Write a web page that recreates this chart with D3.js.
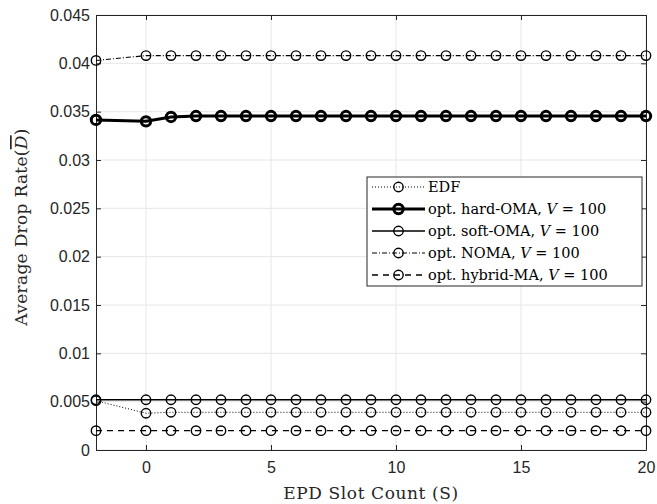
<!DOCTYPE html>
<html><head><meta charset="utf-8">
<script src="https://cdn.jsdelivr.net/npm/d3@7"></script>
<style>body{margin:0;background:#fff}svg{display:block}</style>
</head><body>
<svg id="c" width="657" height="504"></svg>
<script>
const xs = [-2,0,1,2,3,4,5,6,7,8,9,10,11,12,13,14,15,16,17,18,19,20];
const edf    = [0.0051,0.0038,0.0039,0.0039,0.0039,0.0039,0.0039,0.0039,0.0039,0.0039,0.0039,0.0039,0.0039,0.0039,0.0039,0.0039,0.0039,0.0039,0.0039,0.0039,0.0039,0.0039];
const hardOMA= [0.03415,0.0340,0.03445,0.03455,0.03455,0.03455,0.03455,0.03455,0.03455,0.03455,0.03455,0.03455,0.03455,0.03455,0.03455,0.03455,0.03455,0.03455,0.03455,0.03455,0.03455,0.03455];
const softOMA= [0.0052,0.0052,0.0052,0.0052,0.0052,0.0052,0.0052,0.0052,0.0052,0.0052,0.0052,0.0052,0.0052,0.0052,0.0052,0.0052,0.0052,0.0052,0.0052,0.0052,0.0052,0.0052];
const noma   = [0.0403,0.0408,0.0408,0.0408,0.0408,0.0408,0.0408,0.0408,0.0408,0.0408,0.0408,0.0408,0.0408,0.0408,0.0408,0.0408,0.0408,0.0408,0.0408,0.0408,0.0408,0.0408];
const hybrid = [0.0020,0.0020,0.0020,0.0020,0.0020,0.0020,0.0020,0.0020,0.0020,0.0020,0.0020,0.0020,0.0020,0.0020,0.0020,0.0020,0.0020,0.0020,0.0020,0.0020,0.0020,0.0020];
const xTicks = [0,5,10,15,20];
const yTicks = [0,0.005,0.01,0.015,0.02,0.025,0.03,0.035,0.04,0.045];
const yTickLabels = ["0","0.005","0.01","0.015","0.02","0.025","0.03","0.035","0.04","0.045"];
const seriesNames = ["EDF","opt. hard-OMA, ","opt. soft-OMA, ","opt. NOMA, ","opt. hybrid-MA, "];

const series = [
  {name:seriesNames[0], v:edf, w:1, dash:"1,2", v100:false, mw:1.4},
  {name:seriesNames[1], v:hardOMA, w:3, dash:null, v100:true, mw:3},
  {name:seriesNames[2], v:softOMA, w:1.3, dash:null, v100:true, mw:1.4},
  {name:seriesNames[3], v:noma, w:1.1, dash:"5,2,1,2", v100:true, mw:1.4},
  {name:seriesNames[4], v:hybrid, w:1.3, dash:"6,5", v100:true, mw:1.4}
];
const svg = d3.select("#c");
const L=96,R=646,T=15,B=450;
const x = d3.scaleLinear().domain([-2,20]).range([L,R]);
const y = d3.scaleLinear().domain([0,0.045]).range([B,T]);
const ink="#262626";
const serif="'DejaVu Serif','Liberation Serif',serif";

// grid
svg.append("g").selectAll("line").data(xTicks).join("line")
  .attr("x1",d=>x(d)).attr("x2",d=>x(d)).attr("y1",T).attr("y2",B)
  .attr("stroke","#e6e6e6").attr("stroke-width",1);
svg.append("g").selectAll("line").data(yTicks).join("line")
  .attr("y1",d=>y(d)).attr("y2",d=>y(d)).attr("x1",L).attr("x2",R)
  .attr("stroke","#e6e6e6").attr("stroke-width",1);

// axes
const fmtY = d => yTickLabels[yTicks.indexOf(d)];
const gx = svg.append("g").attr("transform",`translate(0,${B})`)
  .call(d3.axisBottom(x).tickValues(xTicks).tickSizeInner(-5).tickSizeOuter(0).tickPadding(12));
const gxt = svg.append("g").attr("transform",`translate(0,${T})`)
  .call(d3.axisTop(x).tickValues(xTicks).tickSizeInner(-5).tickSizeOuter(0).tickFormat(""));
const gy = svg.append("g").attr("transform",`translate(${L},0)`)
  .call(d3.axisLeft(y).tickValues(yTicks).tickFormat(fmtY).tickSizeInner(-5).tickSizeOuter(0).tickPadding(6));
const gyr = svg.append("g").attr("transform",`translate(${R},0)`)
  .call(d3.axisRight(y).tickValues(yTicks).tickFormat("").tickSizeInner(-5).tickSizeOuter(0));
[gx,gxt,gy,gyr].forEach(g=>{
  g.selectAll("path").attr("stroke",ink).attr("stroke-width",1);
  g.selectAll("line").attr("stroke",ink);
  g.selectAll("text").attr("fill","#262626").style("font-family","'Liberation Sans',Arial,sans-serif").style("font-size","16px");
});

// lines
const line = d3.line().x((d,i)=>x(xs[i])).y(d=>y(d));
const order=[0,2,3,4,1];
order.forEach(k=>{
  const s=series[k];
  const g=svg.append("g");
  g.append("path").datum(s.v).attr("d",line).attr("fill","none")
    .attr("stroke","#000").attr("stroke-width",s.w).attr("stroke-dasharray",s.dash);
  g.selectAll("circle").data(s.v).join("circle")
    .attr("cx",(d,i)=>x(xs[i])).attr("cy",d=>y(d)).attr("r",4.7)
    .attr("fill","none").attr("stroke","#000").attr("stroke-width",s.mw);
});

// axis labels
svg.append("text").attr("x",371).attr("y",499).attr("text-anchor","middle")
  .style("font-family",serif).style("font-size","17px").style("letter-spacing","0.6px").attr("fill","#262626")
  .text("EPD Slot Count (S)");
const yl = svg.append("text").attr("transform","translate(27,227) rotate(-90)").attr("text-anchor","middle")
  .style("font-family",serif).style("font-size","17px").style("letter-spacing","0.3px").attr("fill","#262626");
yl.append("tspan").text("Average Drop Rate(");
yl.append("tspan").style("font-style","italic").style("text-decoration","overline").text("D");
yl.append("tspan").text(")");

// legend
const lg = svg.append("g");
lg.append("rect").attr("x",367).attr("y",177).attr("width",275).attr("height",109)
  .attr("fill","#fff").attr("stroke","#262626").attr("stroke-width",1);
series.forEach((s,i)=>{
  const yy = 187 + i*22;
  lg.append("line").attr("x1",372).attr("x2",425).attr("y1",yy).attr("y2",yy)
    .attr("stroke","#000").attr("stroke-width",s.w).attr("stroke-dasharray",s.dash);
  lg.append("circle").attr("cx",398.5).attr("cy",yy).attr("r",4.7).attr("fill","none")
    .attr("stroke","#000").attr("stroke-width",s.mw);
  const t = lg.append("text").attr("x",428).attr("y",yy+5)
    .style("font-family",serif).style("font-size","14.5px").attr("fill","#000");
  t.append("tspan").text(s.name);
  if(s.v100){
    t.append("tspan").style("font-style","italic").text("V");
    t.append("tspan").text(" = 100");
  }
});
</script>
</body></html>
